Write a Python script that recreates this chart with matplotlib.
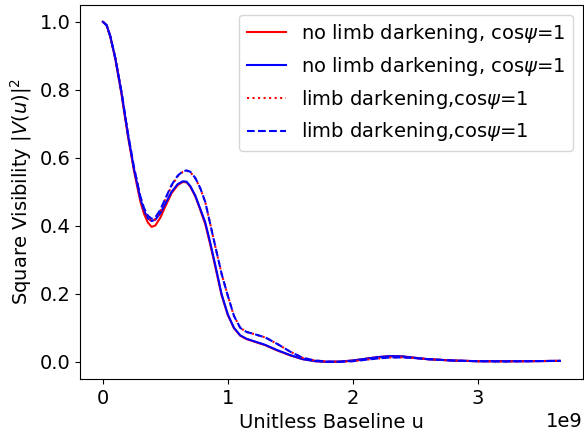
import matplotlib
matplotlib.use("Agg")
import matplotlib.pyplot as plt
import numpy as np

# baseline in units of 1e9
u = [0, 0.03, 0.06, 0.1, 0.15, 0.2, 0.25, 0.3, 0.33, 0.36, 0.39, 0.42, 0.46, 0.50,
     0.55, 0.60, 0.64, 0.67, 0.70, 0.74, 0.78, 0.82, 0.86, 0.90, 0.95, 1.0, 1.05,
     1.1, 1.15, 1.2, 1.3, 1.4, 1.5, 1.6, 1.7, 1.8, 1.9, 2.0, 2.1, 2.2, 2.3, 2.4,
     2.5, 2.6, 2.8, 3.0, 3.2, 3.4, 3.66]

no_ld_red = [1.0, 0.99, 0.955, 0.89, 0.785, 0.665, 0.56, 0.472, 0.435, 0.41, 0.397,
             0.401, 0.424, 0.457, 0.496, 0.52, 0.529, 0.528, 0.515, 0.487, 0.447,
             0.405, 0.345, 0.28, 0.197, 0.138, 0.099, 0.077, 0.067, 0.061, 0.049,
             0.033, 0.019, 0.008, 0.002, 0.0, 0.001, 0.004, 0.009, 0.014, 0.017,
             0.016, 0.012, 0.008, 0.004, 0.002, 0.002, 0.002, 0.003]

no_ld_blue = [1.0, 0.99, 0.957, 0.892, 0.79, 0.67, 0.566, 0.48, 0.445, 0.422, 0.414,
              0.418, 0.437, 0.465, 0.5, 0.523, 0.531, 0.53, 0.517, 0.489, 0.45,
              0.41, 0.35, 0.285, 0.2, 0.14, 0.1, 0.078, 0.068, 0.062, 0.05, 0.034,
              0.02, 0.008, 0.002, 0.0, 0.001, 0.004, 0.009, 0.014, 0.017, 0.016,
              0.012, 0.008, 0.004, 0.002, 0.002, 0.002, 0.003]

ld_red = [1.0, 0.99, 0.957, 0.893, 0.792, 0.673, 0.57, 0.485, 0.448, 0.424, 0.414,
          0.42, 0.443, 0.477, 0.517, 0.546, 0.559, 0.562, 0.558, 0.54, 0.51,
          0.47, 0.405, 0.34, 0.26, 0.195, 0.135, 0.1, 0.088, 0.083, 0.072, 0.052,
          0.03, 0.012, 0.004, 0.001, 0.0, 0.002, 0.006, 0.01, 0.013, 0.013, 0.011,
          0.008, 0.004, 0.002, 0.001, 0.002, 0.003]

ld_blue = [1.0, 0.99, 0.957, 0.893, 0.792, 0.673, 0.57, 0.487, 0.452, 0.43, 0.421,
           0.425, 0.447, 0.48, 0.52, 0.548, 0.56, 0.563, 0.559, 0.541, 0.511,
           0.47, 0.405, 0.34, 0.26, 0.195, 0.135, 0.1, 0.088, 0.083, 0.072, 0.052,
           0.03, 0.012, 0.004, 0.001, 0.0, 0.002, 0.006, 0.01, 0.013, 0.013, 0.011,
           0.008, 0.004, 0.002, 0.001, 0.002, 0.003]

labels = [r'no limb darkening, cos$\psi$=1', r'no limb darkening, cos$\psi$=1',
          r'limb darkening,cos$\psi$=1', r'limb darkening,cos$\psi$=1']

plt.rcParams['font.size'] = 14
fig, ax = plt.subplots(figsize=(5.84, 4.36), dpi=100)
fig.subplots_adjust(left=0.137, right=0.998, bottom=0.131, top=0.989)

x = np.array(u) * 1e9
ax.plot(x, no_ld_red, color='red', linestyle='-', lw=1.5, label=labels[0])
ax.plot(x, no_ld_blue, color='blue', linestyle='-', lw=1.5, label=labels[1])
ax.plot(x, ld_red, color='red', linestyle=':', lw=1.5, label=labels[2])
ax.plot(x, ld_blue, color='blue', linestyle='--', lw=1.5, label=labels[3])

ax.set_xlabel('Unitless Baseline u')
ax.set_ylabel(r'Square Visibility $|V(u)|^2$')
ax.legend(loc='upper right')

fig.savefig('out.png', dpi=100)
